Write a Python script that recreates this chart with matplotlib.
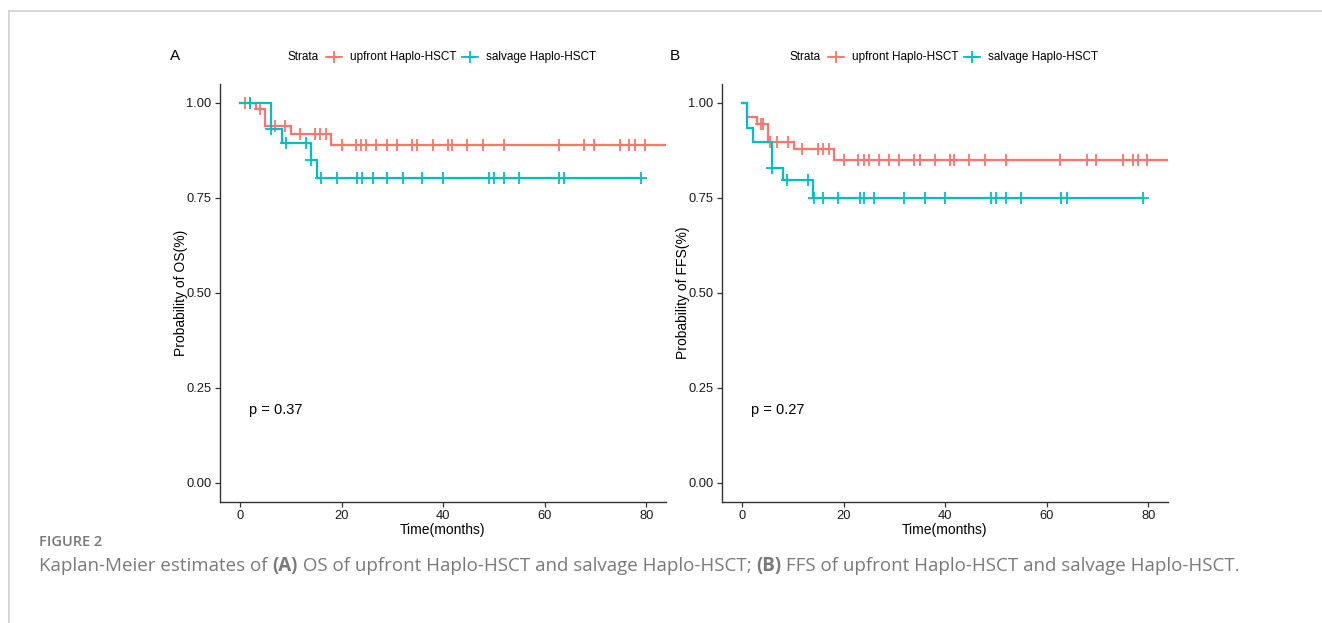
import matplotlib
matplotlib.use("Agg")
import matplotlib.pyplot as plt
import numpy as np
from matplotlib.lines import Line2D

# ---------------- data ----------------
groups = ["upfront Haplo-HSCT", "salvage Haplo-HSCT"]
colors = ["#F8766D", "#00BFC4"]

# Panel A: OS
os_up_times = [0, 3.0, 4.9, 9.9, 17.9]
os_up_surv = [1.0, 0.982, 0.938, 0.916, 0.888]
os_up_last = 84.0
os_up_cens = [0.85, 2.0, 3.8, 6.9, 8.8, 11.8, 14.8, 15.8, 16.9, 20.0, 22.9, 23.8,
              24.8, 26.8, 28.9, 30.8, 33.9, 34.9, 37.9, 41.0, 41.7, 44.7, 47.8,
              51.9, 62.9, 67.8, 69.7, 74.9, 76.7, 77.8, 79.8]

os_sal_times = [0, 6.05, 8.2, 13.95, 15.1]
os_sal_surv = [1.0, 0.929, 0.893, 0.849, 0.802]
os_sal_last = 78.9
os_sal_cens = [2.0, 6.1, 9.0, 13.0, 14.0, 15.9, 19.1, 23.0, 23.9, 26.1, 29.0,
               32.0, 35.8, 39.9, 49.0, 50.0, 51.9, 55.0, 62.9, 63.7, 78.9]

# Panel B: FFS
ffs_up_times = [0, 1.0, 2.95, 5.05, 10.1, 18.0]
ffs_up_surv = [1.0, 0.963, 0.943, 0.897, 0.877, 0.849]
ffs_up_last = 84.0
ffs_up_cens = [3.6, 4.1, 5.4, 6.9, 9.0, 11.8, 14.9, 15.9, 17.0, 20.0, 22.9, 23.9,
               24.9, 27.0, 29.0, 30.9, 33.9, 35.0, 38.0, 41.0, 41.8, 44.7, 47.9,
               51.9, 62.7, 68.0, 69.8, 75.0, 77.0, 78.0, 79.8]

ffs_sal_times = [0, 1.0, 2.1, 5.9, 8.0, 14.0]
ffs_sal_surv = [1.0, 0.932, 0.897, 0.827, 0.795, 0.75]
ffs_sal_last = 79.0
ffs_sal_cens = [5.95, 8.85, 13.0, 14.2, 16.0, 18.9, 23.1, 23.9, 26.0, 31.9, 36.0,
                40.0, 49.0, 50.0, 51.9, 55.0, 62.9, 63.9, 79.0]

p_values = ["p = 0.37", "p = 0.27"]
panel_letters = ["A", "B"]
ylabels = ["Probability of OS(%)", "Probability of FFS(%)"]
xlabel = "Time(months)"
xticks = [0, 20, 40, 60, 80]
yticks = [0.0, 0.25, 0.5, 0.75, 1.0]
ytick_labels = ["0.00", "0.25", "0.50", "0.75", "1.00"]

# ---------------- figure ----------------
W, H = 1322, 623
fig = plt.figure(figsize=(W / 100, H / 100), dpi=100)
plt.rcParams["font.family"] = ["Liberation Sans", "DejaVu Sans"]

# page frame lines
fig.add_artist(Line2D([9 / W, 1.0], [1 - 11 / H, 1 - 11 / H], color="#cfcfcf", lw=1.2))
fig.add_artist(Line2D([9 / W, 9 / W], [1 - 11 / H, 0.0], color="#cfcfcf", lw=1.2))


def km_draw(ax, times, surv, last, cens, color):
    t = list(times) + [last]
    s = list(surv) + [surv[-1]]
    ax.step(t, s, where="post", color=color, lw=1.6, solid_joinstyle="miter")
    idx = np.searchsorted(np.array(times), np.array(cens), side="right") - 1
    cy = np.array(surv)[idx]
    ax.plot(cens, cy, linestyle="none", marker="+", color=color, ms=8, mew=1.3)


panels = [
    (220, 666, [(os_up_times, os_up_surv, os_up_last, os_up_cens),
                (os_sal_times, os_sal_surv, os_sal_last, os_sal_cens)]),
    (722, 1168, [(ffs_up_times, ffs_up_surv, ffs_up_last, ffs_up_cens),
                 (ffs_sal_times, ffs_sal_surv, ffs_sal_last, ffs_sal_cens)]),
]

top_px, bot_px = 83.5, 501.5
for i, (l, r, series) in enumerate(panels):
    ax = fig.add_axes([l / W, 1 - bot_px / H, (r - l) / W, (bot_px - top_px) / H])
    for (tt, ss, last, cc), col in zip(series, colors):
        km_draw(ax, tt, ss, last, cc, col)
    ax.set_xlim(-4.0, 83.9)
    ax.set_ylim(-0.05, 1.05)
    ax.set_xticks(xticks)
    ax.set_yticks(yticks)
    ax.set_yticklabels(ytick_labels)
    for sp in ["top", "right"]:
        ax.spines[sp].set_visible(False)
    for sp in ["left", "bottom"]:
        ax.spines[sp].set_color("#333333")
        ax.spines[sp].set_linewidth(1.0)
    ax.tick_params(axis="both", labelsize=9.3, colors="#333333", labelcolor="#1a1a1a",
                   length=3.5, width=0.9, pad=2.5)
    ax.set_xlabel(xlabel, fontsize=10, color="black", labelpad=1)
    ax.set_ylabel(ylabels[i], fontsize=10, color="black", labelpad=-1)
    ax.text(6.9, 0.19, p_values[i], fontsize=10.5, color="black",
            va="center", ha="center")

    # panel letter
    fig.text((175 if i == 0 else 675) / W, 1 - 56 / H, panel_letters[i], fontsize=11,
             ha="center", va="center", color="black")

    # legend
    off = 0 if i == 0 else 502
    ly = 1 - 57 / H
    fig.text((303 + off) / W, ly, "Strata", fontsize=8.5, ha="center", va="center")
    for k, (g, col) in enumerate(zip(groups, colors)):
        mx = (334 + 136 * k + off) / W
        fig.add_artist(Line2D([mx - 8 / W, mx + 8 / W], [ly, ly], color=col, lw=1.3))
        fig.add_artist(Line2D([mx], [ly], marker="+", color=col, ms=8, mew=1.3,
                              linestyle="none"))
        fig.text((350 + 136 * k + off) / W, ly, g, fontsize=8.5, ha="left", va="center")

# caption
cap_font = ["Open Sans", "DejaVu Sans"]
cap_x0 = 39.0
fig.text(cap_x0 / W, 1 - 542 / H, "FIGURE 2", fontsize=10.5, color="#777777",
         family=cap_font, weight="semibold", va="center", ha="left")

pieces = [("Kaplan-Meier estimates of ", "normal"), ("(A)", "bold"),
          (" OS of upfront Haplo-HSCT and salvage Haplo-HSCT; ", "normal"),
          ("(B)", "bold"), (" FFS of upfront Haplo-HSCT and salvage Haplo-HSCT.", "normal")]
fig.canvas.draw()
renderer = fig.canvas.get_renderer()
x = cap_x0
for txt, wt in pieces:
    t = fig.text(x / W, 1 - 566 / H, txt, fontsize=13.5, color="#7a7a7a",
                 family=cap_font, weight=wt, va="center", ha="left")
    bb = t.get_window_extent(renderer=renderer)
    x += bb.width

fig.savefig("out.png", dpi=100)
